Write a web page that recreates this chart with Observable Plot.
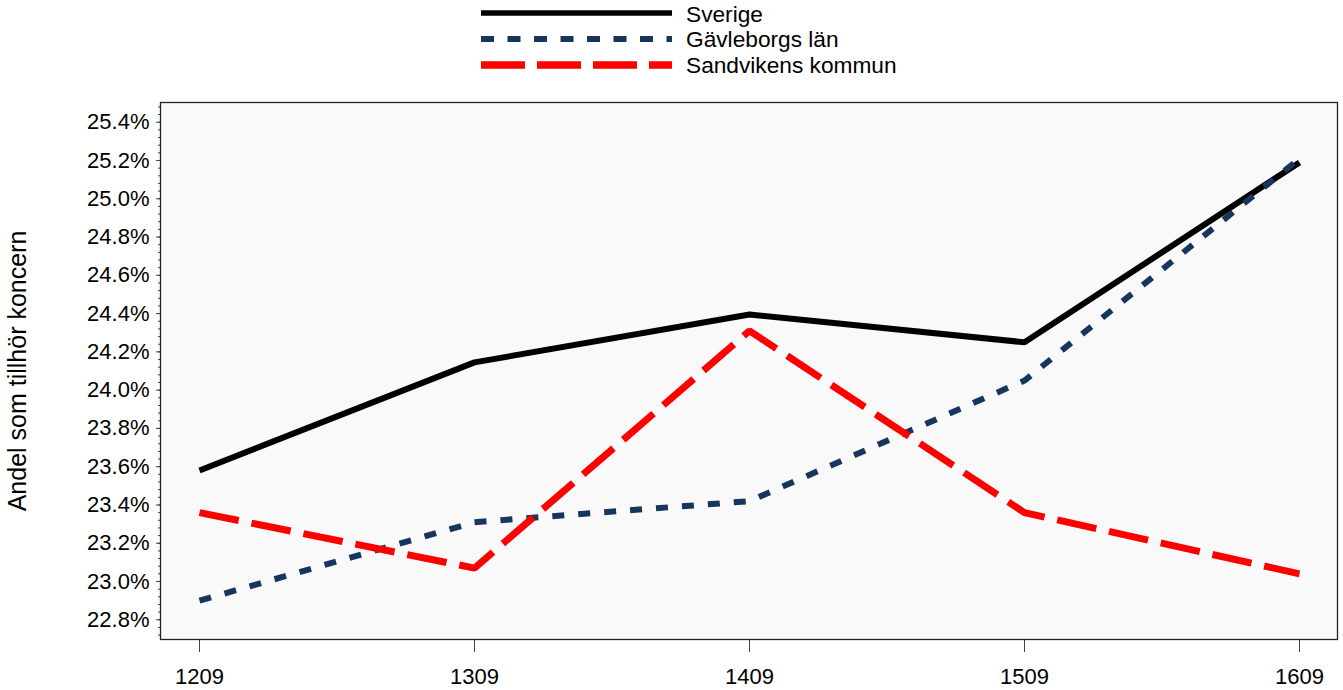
<!DOCTYPE html>
<html>
<head>
<meta charset="utf-8">
<script src="https://cdn.jsdelivr.net/npm/d3@7"></script>
<script src="https://cdn.jsdelivr.net/npm/@observablehq/plot@0.6"></script>
<style>
  body { margin: 0; background: #fff; font-family: "Liberation Sans", Arial, sans-serif; }
  #legend { display: block; }
  #chart svg g[aria-label="y-axis tick label"] text,
  #chart svg g[aria-label="x-axis tick label"] text { font-size: 22px !important; }
  #chart svg g[aria-label="y-axis label"] text { font-size: 25px !important; }
</style>
</head>
<body>
<div id="legend"></div>
<div id="chart"></div>
<script>
const periods = ["1209", "1309", "1409", "1509", "1609"];
const seriesNames = ["Sverige", "Gävleborgs län", "Sandvikens kommun"];
const sverige = [23.58, 24.145, 24.395, 24.25, 25.19];
const gavleborg = [22.90, 23.31, 23.42, 24.05, 25.21];
const sandviken = [23.36, 23.07, 24.31, 23.36, 23.04];
const yTicks = [22.8, 23.0, 23.2, 23.4, 23.6, 23.8, 24.0, 24.2, 24.4, 24.6, 24.8, 25.0, 25.2, 25.4];

const styles = [
  {stroke: "#000000", width: 6, dash: null},
  {stroke: "#17365d", width: 6, dash: "12,14"},
  {stroke: "#ff0000", width: 7, dash: "40,13"}
];
const allValues = [sverige, gavleborg, sandviken];
const rows = seriesNames.map((name, i) => periods.map((p, j) => ({series: name, period: p, value: allValues[i][j]})));

// Legend (drawn above the plot SVG)
const legend = document.getElementById("legend");
const ns = "http://www.w3.org/2000/svg";
const lsvg = document.createElementNS(ns, "svg");
lsvg.setAttribute("width", 1343);
lsvg.setAttribute("height", 90);
lsvg.style.display = "block";
const legendY = [13, 39, 65];
const legendBase = [21.5, 47, 72.5];
const legendDash = [null, "13,13.5", "44,12"];
const legendW = [5.5, 6, 7.5];
seriesNames.forEach((name, i) => {
  const ln = document.createElementNS(ns, "line");
  ln.setAttribute("x1", 481); ln.setAttribute("x2", 672);
  ln.setAttribute("y1", legendY[i]); ln.setAttribute("y2", legendY[i]);
  ln.setAttribute("stroke", styles[i].stroke);
  ln.setAttribute("stroke-width", legendW[i]);
  if (legendDash[i]) ln.setAttribute("stroke-dasharray", legendDash[i]);
  lsvg.appendChild(ln);
  const t = document.createElementNS(ns, "text");
  t.setAttribute("x", 686);
  t.setAttribute("y", legendBase[i]);
  t.setAttribute("font-size", "22.7px");
  t.setAttribute("font-family", "'Liberation Sans', Arial, sans-serif");
  t.setAttribute("fill", "#000");
  t.textContent = name;
  lsvg.appendChild(t);
});
legend.appendChild(lsvg);

const minorTicks = d3.range(22.72, 25.5, 0.04).map(v => +v.toFixed(2));

const chart = Plot.plot({
  width: 1343,
  height: 600,
  marginTop: 12,
  marginBottom: 51,
  marginLeft: 160,
  marginRight: 6,
  style: {fontFamily: "'Liberation Sans', Arial, sans-serif", fontSize: "22px", color: "#000", background: "#fff", display: "block"},
  x: {type: "point", domain: periods, padding: 0.14},
  y: {domain: [22.697, 25.503]},
  marks: [
    Plot.frame({fill: "#f9f9f9", stroke: null}),
    Plot.axisY({ticks: minorTicks, tickSize: 2, tickFormat: () => "", stroke: "#444", label: null, ariaLabel: "y-minor"}),
    Plot.axisY({ticks: yTicks, tickSize: 4, tickPadding: 7, tickFormat: d => d.toFixed(1) + "%", stroke: "#444",
      label: "Andel som tillhör koncern", labelAnchor: "center", labelArrow: "none", labelOffset: 152}),
    Plot.axisX({tickSize: 13, tickPadding: 16, stroke: "#444", label: null}),
    ...rows.map((r, i) => Plot.line(r, {x: "period", y: "value", stroke: styles[i].stroke, strokeWidth: styles[i].width,
      strokeDasharray: styles[i].dash, strokeLinecap: "butt", strokeLinejoin: "miter"})),
    Plot.frame({stroke: "#222", strokeWidth: 1.3})
  ]
});
document.getElementById("chart").appendChild(chart);
</script>
</body>
</html>
